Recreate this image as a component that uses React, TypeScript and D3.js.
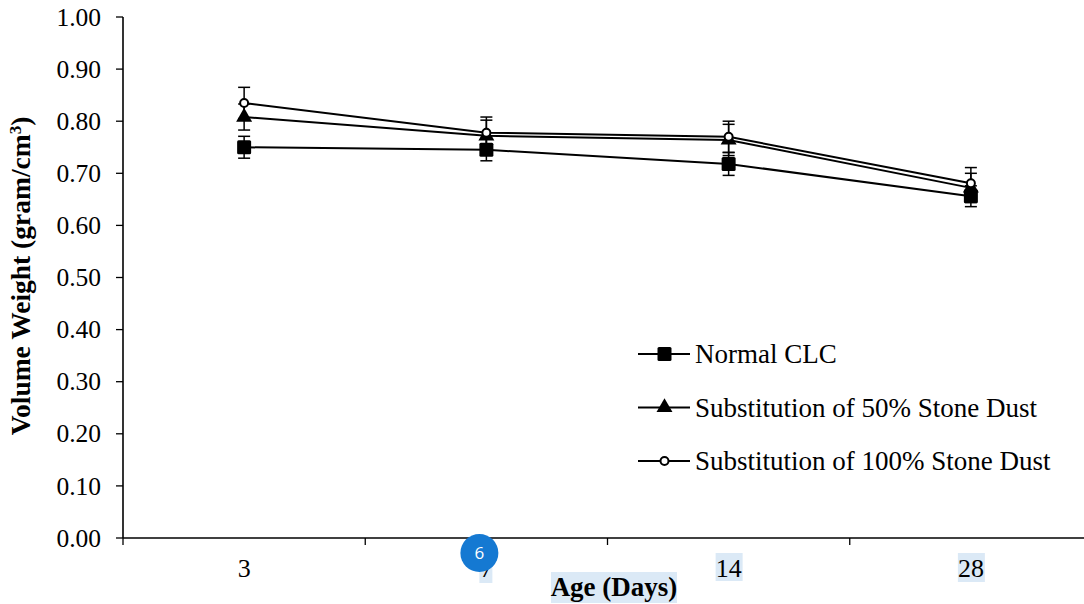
import * as d3 from "d3";

const ages = ["3", "7", "14", "28"];
const normalClc = [0.75, 0.745, 0.718, 0.656];
const normalErr = [0.021, 0.021, 0.022, 0.02];
const stoneDust50 = [0.808, 0.772, 0.764, 0.672];
const stoneDust50Err = [0.025, 0.03, 0.03, 0.028];
const stoneDust100 = [0.835, 0.778, 0.77, 0.681];
const stoneDust100Err = [0.03, 0.03, 0.03, 0.03];
const yTicks = [0, 0.1, 0.2, 0.3, 0.4, 0.5, 0.6, 0.7, 0.8, 0.9, 1.0];

type Marker = "square" | "triangle" | "circle";
type Series = { name: string; values: number[]; err: number[]; marker: Marker };

const series: Series[] = [
  { name: "Normal CLC", values: normalClc, err: normalErr, marker: "square" },
  { name: "Substitution of 50% Stone Dust", values: stoneDust50, err: stoneDust50Err, marker: "triangle" },
  { name: "Substitution of 100% Stone Dust", values: stoneDust100, err: stoneDust100Err, marker: "circle" },
];

const W = 1084;
const H = 604;
const serif = { fontFamily: "Liberation Serif" };

const left = 123;
const right = 1092;
const top = 17;
const bottom = 538;

const x = d3.scaleBand<string>().domain(ages).range([left, right]);
const y = d3.scaleLinear().domain([0, 1]).range([bottom, top]);
const cx = (a: string) => (x(a) ?? 0) + x.bandwidth() / 2;
const fmt = d3.format(".2f");
const triangle = d3.symbol(d3.symbolTriangle, 110)() ?? "";

function MarkerShape({ kind, px, py }: { kind: Marker; px: number; py: number }) {
  if (kind === "square")
    return <rect x={px - 7} y={py - 7} width={14} height={14} rx={1.5} fill="#000" />;
  if (kind === "triangle")
    return <path d={triangle} transform={`translate(${px},${py})`} fill="#000" />;
  return <circle cx={px} cy={py} r={4} fill="#fff" stroke="#000" strokeWidth={2} />;
}

export default function App() {
  const line = d3
    .line<number>()
    .x((_d, i) => cx(ages[i]))
    .y((d) => y(d));
  const bounds = ages.map((a) => x(a) ?? 0).concat([right]);

  return (
    <svg width={W} height={H} style={{ position: "absolute", left: 0, top: 0, background: "#fff" }}>
      {/* highlight boxes behind labels */}
      <g fill="#dbe9f6">
        <rect x={cx("14") - 13} y={553} width={27} height={28} />
        <rect x={cx("28") - 13} y={553} width={27} height={29} />
        <rect x={cx("7") - 7} y={566} width={13} height={17} />
        <rect x={551} y={572} width={126} height={31} />
      </g>

      {/* y axis */}
      <line x1={left} x2={left} y1={top} y2={bottom} stroke="#000" strokeWidth={1.6} />
      {yTicks.map((t) => (
        <g key={t}>
          <line x1={left - 7} x2={left} y1={y(t)} y2={y(t)} stroke="#000" strokeWidth={1.3} />
          <text x={101} y={y(t)} dy="0.34em" textAnchor="end" fontSize={25.5} fill="#000" style={serif}>
            {fmt(t)}
          </text>
        </g>
      ))}

      {/* x axis */}
      <line x1={left} x2={W} y1={bottom} y2={bottom} stroke="#000" strokeWidth={1.6} />
      {bounds.map((b) => (
        <line key={b} x1={b} x2={b} y1={bottom} y2={bottom + 7} stroke="#000" strokeWidth={1.3} />
      ))}
      {ages.map((a) => (
        <text key={a} x={cx(a)} y={577} textAnchor="middle" fontSize={26} fill="#000" style={serif}>
          {a}
        </text>
      ))}

      {/* axis titles */}
      <text
        transform="translate(30,276) rotate(-90)"
        textAnchor="middle"
        fontSize={27.5}
        fontWeight="bold"
        fill="#000"
        style={serif}
      >
        Volume Weight (gram/cm
        <tspan dy={-9} fontSize={17}>3</tspan>
        <tspan dy={9}>)</tspan>
      </text>
      <text x={614} y={596} textAnchor="middle" fontSize={27} fontWeight="bold" fill="#000" style={serif}>
        Age (Days)
      </text>

      {/* series */}
      {series.map((s) => (
        <g key={s.name}>
          <path d={line(s.values) ?? ""} fill="none" stroke="#000" strokeWidth={2} />
          {s.values.map((v, i) => {
            const px = cx(ages[i]);
            const hi = y(v + s.err[i]);
            const lo = y(v - s.err[i]);
            return (
              <g key={i} stroke="#000" strokeWidth={1.5}>
                <line x1={px} x2={px} y1={hi} y2={lo} />
                <line x1={px - 6} x2={px + 6} y1={hi} y2={hi} />
                <line x1={px - 6} x2={px + 6} y1={lo} y2={lo} />
              </g>
            );
          })}
          {s.values.map((v, i) => (
            <MarkerShape key={i} kind={s.marker} px={cx(ages[i])} py={y(v)} />
          ))}
        </g>
      ))}

      {/* legend */}
      <g transform="translate(638,354)">
        {series.map((s, i) => (
          <g key={s.name} transform={`translate(0,${i * 53.5})`}>
            <line x1={0} x2={52} y1={0} y2={0} stroke="#000" strokeWidth={2} />
            <MarkerShape kind={s.marker} px={26.5} py={0} />
            <text x={57} y={0} dy="0.34em" fontSize={27} fill="#000" style={serif}>
              {s.name}
            </text>
          </g>
        ))}
      </g>

      {/* badge */}
      <g transform={`translate(${cx("7") - 7},553)`}>
        <circle r={19} fill="#1579d2" />
        <text textAnchor="middle" dy="0.36em" fontSize={17} fill="#fff" style={{ fontFamily: "Open Sans" }}>
          6
        </text>
      </g>
    </svg>
  );
}
